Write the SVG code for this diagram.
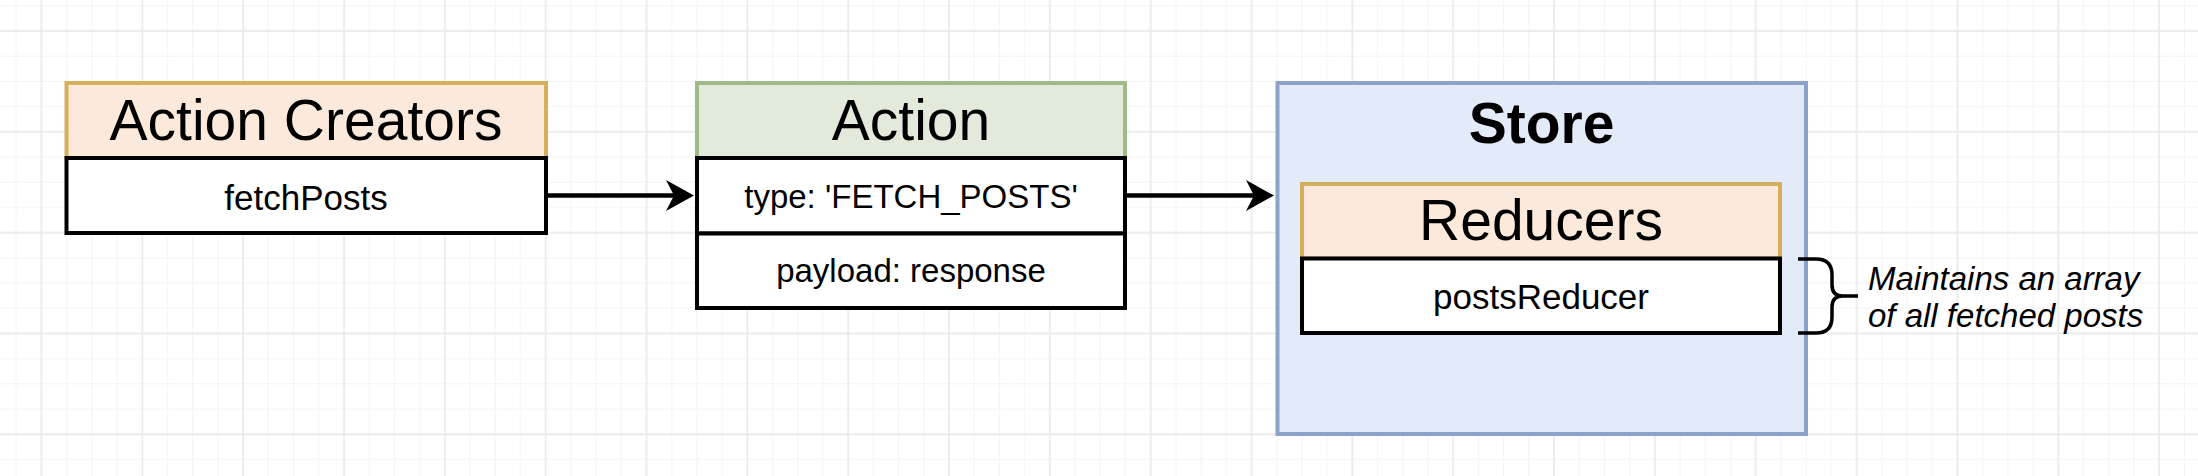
<svg xmlns="http://www.w3.org/2000/svg" width="2198" height="476" viewBox="0 0 2198 476">
  <defs>
    <pattern id="grid" patternUnits="userSpaceOnUse" x="-21.5" y="-32" width="100.84" height="100.84">
      <g stroke="#f3f3f3" stroke-width="1">
        <line x1="12.6" y1="0" x2="12.6" y2="100.84"/>
        <line x1="37.8" y1="0" x2="37.8" y2="100.84"/>
        <line x1="88.2" y1="0" x2="88.2" y2="100.84"/>
        <line x1="0" y1="12.6" x2="100.84" y2="12.6"/>
        <line x1="0" y1="37.8" x2="100.84" y2="37.8"/>
        <line x1="0" y1="88.2" x2="100.84" y2="88.2"/>
      </g>
      <g stroke="#e9e9e9" stroke-width="1.6">
        <line x1="63" y1="0" x2="63" y2="100.84"/>
        <line x1="0" y1="63" x2="100.84" y2="63"/>
      </g>
    </pattern>
    <marker id="arrow" markerUnits="userSpaceOnUse" markerWidth="34" markerHeight="36" viewBox="-16 -18 34 36" refX="0" refY="0" orient="auto">
      <path d="M14,0 L-14,-15.5 L-6,0 L-14,15.5 Z" fill="#000"/>
    </marker>
    <style>
      .hdr-orange { fill: #fbeadb; stroke: #d5b05c; stroke-width: 4; }
      .hdr-green { fill: #e2eadb; stroke: #9fba88; stroke-width: 4; }
      .row { fill: #ffffff; stroke: #000000; stroke-width: 4; }
      .store { fill: #e3eaf8; stroke: #8ca2c9; stroke-width: 4; }
      .title { font-family: "Liberation Sans", Arial, Helvetica, sans-serif; font-size: 57px; fill: #000; text-anchor: middle; }
      .bold { font-weight: bold; }
      .body { font-family: "Liberation Sans", Arial, Helvetica, sans-serif; font-size: 33px; fill: #000; text-anchor: middle; }
      .body-lg { font-size: 35px; }
      .note { font-family: "Liberation Sans", Arial, Helvetica, sans-serif; font-size: 33px; font-style: italic; fill: #000; }
      .conn { fill: none; stroke: #000; stroke-width: 4.5; }
      .brace { fill: none; stroke: #000; stroke-width: 3.5; stroke-linejoin: round; }
    </style>
  </defs>

  <rect x="0" y="0" width="2198" height="476" fill="#ffffff"/>
  <rect x="0" y="0" width="2198" height="476" fill="url(#grid)"/>

  <g id="action-creators">
    <rect class="hdr-orange" x="66.5" y="83" width="479.5" height="75"/>
    <text class="title" x="306" y="140">Action Creators</text>
    <rect class="row" x="66.5" y="158" width="479.5" height="75"/>
    <text class="body body-lg" x="306" y="210">fetchPosts</text>
  </g>

  <g id="action">
    <rect class="hdr-green" x="697" y="83" width="428" height="75"/>
    <text class="title" x="911" y="140">Action</text>
    <rect class="row" x="697" y="158" width="428" height="75.5"/>
    <text class="body" x="911" y="208">type: 'FETCH_POSTS'</text>
    <rect class="row" x="697" y="233.5" width="428" height="74.5"/>
    <text class="body" x="911" y="282">payload: response</text>
  </g>

  <g id="store">
    <rect class="store" x="1277.5" y="83" width="528.5" height="351"/>
    <text class="title bold" x="1541.5" y="143">Store</text>
  </g>

  <g id="reducers">
    <rect class="hdr-orange" x="1302" y="184" width="478" height="74.5"/>
    <text class="title" x="1541" y="240">Reducers</text>
    <rect class="row" x="1302" y="258.5" width="478" height="74.5"/>
    <text class="body body-lg" x="1541" y="309">postsReducer</text>
  </g>

  <g id="note">
    <path class="brace" d="M1798,259 H1816 Q1832,259 1832,275 V285 Q1832,296 1843,296 H1858 M1843,296 Q1832,296 1832,307 V317 Q1832,333 1816,333 H1798"/>
    <text class="note" x="1868" y="290">Maintains an array</text>
    <text class="note" x="1868" y="327">of all fetched posts</text>
  </g>

  <g id="connectors">
    <line class="conn" x1="546" y1="195.5" x2="680" y2="195.5" marker-end="url(#arrow)"/>
    <line class="conn" x1="1125" y1="195.5" x2="1260" y2="195.5" marker-end="url(#arrow)"/>
  </g>
</svg>
